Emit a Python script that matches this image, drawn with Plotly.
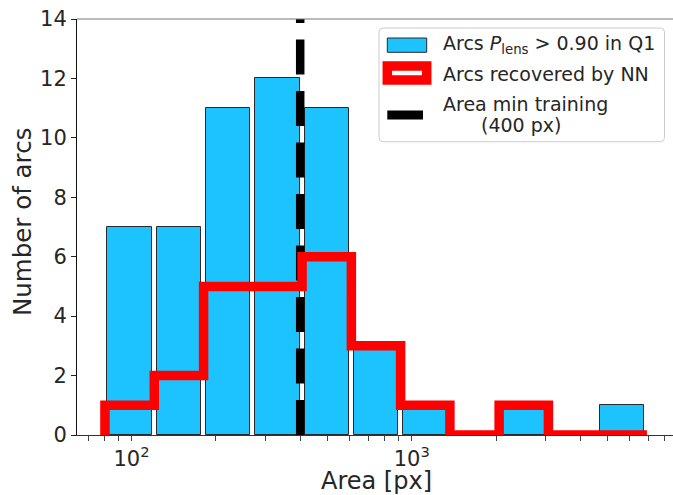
import numpy as np
import plotly.graph_objects as go

# ---------------- data ----------------
bin_edges = [80.4, 120.6, 180.8, 271.0, 406.2, 609.0, 912.9, 1368.5, 2051.5, 3075.3, 4610.0, 6911.0]
counts_q1 = [7, 7, 11, 12, 11, 3, 1, 0, 1, 0, 1]
counts_nn = [1, 2, 5, 5, 6, 3, 1, 0, 1, 0, 0]
area_min_training = 400
y_max = 14
x_tick_major = [100, 1000]
x_tick_major_text = ["10<sup>2</sup>", "10<sup>3</sup>"]
y_ticks = [0, 2, 4, 6, 8, 10, 12, 14]
legend_labels = ["Arcs <i>P</i><sub>lens</sub> > 0.90 in Q1", "Arcs recovered by NN",
                 "Area min training", "(400 px)"]

# ---------------- layout geometry ----------------
W, H = 673, 495
L, R, T, B = 77, 673, 19, 435   # plot area in px
FONT = "DejaVu Sans"
TXT = "#262626"
BLUE = "#1DC3FF"

def px(x):
    return (x - L) / (R - L)

def py(y):
    return (B - y) / (B - T)

edges = np.array(bin_edges)
loge = np.log10(edges)
rwidth = 0.9
lw = loge[1:] - loge[:-1]
left = 10 ** (loge[:-1] + lw * (1 - rwidth) / 2)
right = 10 ** (loge[1:] - lw * (1 - rwidth) / 2)

fig = go.Figure()

# blue histogram bars
fig.add_trace(go.Bar(
    x=left, y=counts_q1, width=right - left, offset=0,
    marker=dict(color=BLUE, line=dict(color="#2a2a2a", width=1)),
    showlegend=False,
))

# black dashed vertical line
fig.add_trace(go.Scatter(
    x=[area_min_training, area_min_training], y=[0, y_max], mode="lines",
    line=dict(color="black", width=8.5, dash="35px,16.5px"),
    showlegend=False,
))

# red step histogram
step_x = [bin_edges[0]] + list(bin_edges)
step_y = [0] + list(counts_nn) + [0]
fig.add_trace(go.Scatter(
    x=step_x, y=step_y, mode="lines", line_shape="hv",
    line=dict(color="#FF0000", width=9.5),
    showlegend=False,
))

# minor tick positions
minor = [dec * m for dec in [10, 100, 1000] for m in range(2, 10)]

xr0 = 2 + (L - 131.5) / 280.2
xr1 = 3 + (R - 411.7) / 280.2

fig.update_layout(
    width=W, height=H,
    margin=dict(l=L, r=W - R, t=T, b=H - B),
    paper_bgcolor="white", plot_bgcolor="white",
    font=dict(family=FONT, color=TXT),
    bargap=0,
    xaxis=dict(
        type="log", range=[xr0, xr1],
        tickmode="array", tickvals=x_tick_major, ticktext=x_tick_major_text,
        ticks="outside", ticklen=5, tickwidth=1, tickcolor="#444",
        minor=dict(tickmode="array", tickvals=minor, ticks="outside", ticklen=5,
                   tickwidth=1, tickcolor="#444", showgrid=False),
        showline=True, linecolor="#333", linewidth=1,
        showgrid=False, zeroline=False,
        tickfont=dict(size=21, family=FONT, color=TXT),
    ),
    yaxis=dict(
        range=[0, y_max], tickmode="array", tickvals=y_ticks,
        ticks="outside", ticklen=5, tickwidth=1, tickcolor="#222",
        showline=True, linecolor="#111", linewidth=1,
        showgrid=False, zeroline=False,
        tickfont=dict(size=21, family=FONT, color=TXT),
    ),
)

shapes = []
# top spine
shapes.append(dict(type="line", xref="paper", yref="paper", x0=0, x1=1, y0=1, y1=1,
                   line=dict(color="#777", width=1.2)))

# legend box (rounded), in paper coordinates
def pp(x, y):
    return f"{px(x)},{py(y)}"

x0, x1, y0, y1, r = 379, 664.5, 28, 141.7, 4
path = (f"M {pp(x0+r,y0)} L {pp(x1-r,y0)} Q {pp(x1,y0)} {pp(x1,y0+r)} L {pp(x1,y1-r)} "
        f"Q {pp(x1,y1)} {pp(x1-r,y1)} L {pp(x0+r,y1)} Q {pp(x0,y1)} {pp(x0,y1-r)} "
        f"L {pp(x0,y0+r)} Q {pp(x0,y0)} {pp(x0+r,y0)} Z")
shapes.append(dict(type="path", xref="paper", yref="paper", path=path,
                   fillcolor="rgba(255,255,255,0.8)", line=dict(color="#cccccc", width=1)))
# legend handles
hx0, hx1 = 387.3, 426.7
shapes.append(dict(type="rect", xref="paper", yref="paper",
                   x0=px(hx0), x1=px(hx1), y0=py(38), y1=py(52.3),
                   fillcolor=BLUE, line=dict(color="#2a2a2a", width=1)))
shapes.append(dict(type="rect", xref="paper", yref="paper",
                   x0=px(hx0), x1=px(hx1), y0=py(66), y1=py(80),
                   fillcolor="rgba(0,0,0,0)", line=dict(color="#FF0000", width=9.5)))
shapes.append(dict(type="line", xref="paper", yref="paper",
                   x0=px(hx0), x1=px(423), y0=py(115), y1=py(115),
                   line=dict(color="black", width=9)))
fig.update_layout(shapes=shapes)

ann = []
lf = dict(family=FONT, size=19, color=TXT)
for text, yc in zip(legend_labels[:3], [44.2, 74.2, 104.2]):
    ann.append(dict(xref="paper", yref="paper", x=px(440.5), y=py(yc), text=text,
                    showarrow=False, xanchor="left", yanchor="middle", font=lf))
ann.append(dict(xref="paper", yref="paper", x=px(521), y=py(125), text=legend_labels[3],
                showarrow=False, xanchor="center", yanchor="middle", font=lf))
# axis titles
ann.append(dict(xref="paper", yref="paper", x=px(376), y=py(481), text="Area [px]",
                showarrow=False, xanchor="center", yanchor="middle", borderpad=0,
                font=dict(family=FONT, size=24, color=TXT)))
ann.append(dict(xref="paper", yref="paper", x=px(22), y=py(222), text="Number of arcs",
                showarrow=False, xanchor="center", yanchor="middle", textangle=-90,
                font=dict(family=FONT, size=24.5, color=TXT)))
fig.update_layout(annotations=ann)

fig.write_html("out.html")
